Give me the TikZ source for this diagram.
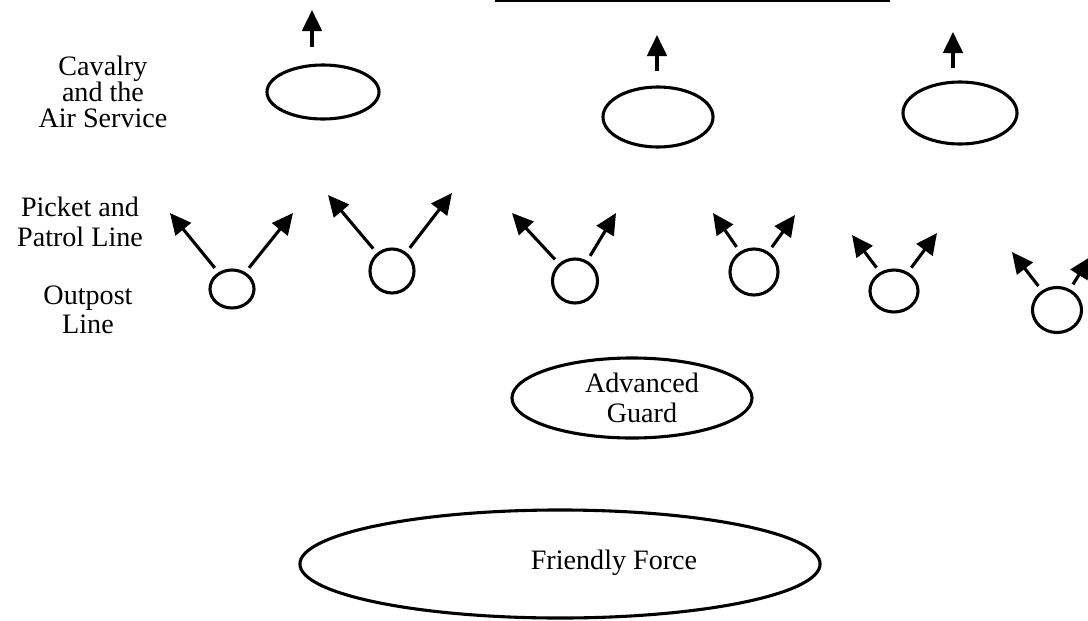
\documentclass[tikz,border=0pt]{standalone}
\usepackage{fontspec}
\setmainfont{Liberation Serif}
\usetikzlibrary{arrows.meta}
\usetikzlibrary{shapes.geometric}
\usetikzlibrary{positioning}

\begin{document}
\begin{tikzpicture}[x=0.025cm, y=-0.025cm,
		unit/.style={draw, ellipse, line width=2.2pt, inner sep=0pt},
		arr/.style={line width=2.2pt, -{Triangle[length=15pt, width=14pt]}},
		lbl/.style={align=center, font=\fontsize{20}{21}\selectfont}]
		\useasboundingbox (0,0) rectangle (1088,620);
		\draw[line width=1.6pt] (495,1) -- (890,1);

		\node[lbl, font=\fontsize{20}{18.5}\selectfont] (cavlbl) at (103,92) {Cavalry\\and the\\Air Service};
		\node[lbl] (picketlbl) at (80,222) {Picket and\\Patrol Line};
		\node[lbl] (outpostlbl) at (88,310) {Outpost\\Line};

		\node[unit, minimum width=2.8cm, minimum height=1.35cm] (cav1) at (323,92) {};
		\node[unit, minimum width=2.75cm, minimum height=1.5cm] (cav2) at (658,117) {};
		\node[unit, minimum width=2.85cm, minimum height=1.55cm] (cav3) at (960,113) {};
		\coordinate (cav1up) at (312,10);
		\coordinate (cav2up) at (657,35);
		\coordinate (cav3up) at (953,32);
		\draw[arr, shorten <=0.42cm] (cav1.north -| cav1up) -- (cav1up);
		\draw[arr, shorten <=0.35cm] (cav2.north -| cav2up) -- (cav2up);
		\draw[arr, shorten <=0.3cm] (cav3.north -| cav3up) -- (cav3up);

		\node[unit, minimum width=1.1cm, minimum height=0.95cm] (op1) at (232,289) {};
		\node[unit, minimum width=1.1cm, minimum height=1.1cm] (op2) at (392,271) {};
		\node[unit, minimum width=1.125cm, minimum height=1.1cm] (op3) at (575,281) {};
		\node[unit, minimum width=1.2cm, minimum height=1.15cm] (op4) at (754,272) {};
		\node[unit, minimum width=1.2cm, minimum height=1.05cm] (op5) at (894,291) {};
		\node[unit, minimum width=1.225cm, minimum height=1.125cm] (op6) at (1057,310) {};
		\coordinate (op1l) at (170,213);
		\coordinate (op1r) at (293,213);
		\coordinate (op2l) at (328,195);
		\coordinate (op2r) at (452,193);
		\coordinate (op3l) at (512,213);
		\coordinate (op3r) at (616,213);
		\coordinate (op4l) at (713,213);
		\coordinate (op4r) at (795,215);
		\coordinate (op5l) at (852,235);
		\coordinate (op5r) at (937,233);
		\coordinate (op6l) at (1012,252);
		\coordinate (op6r) at (1090,257);
		\draw[arr, shorten <=4pt] (op1) -- (op1l);
		\draw[arr, shorten <=4pt] (op1) -- (op1r);
		\draw[arr, shorten <=4pt] (op2) -- (op2l);
		\draw[arr, shorten <=4pt] (op2) -- (op2r);
		\draw[arr, shorten <=4pt] (op3) -- (op3l);
		\draw[arr, shorten <=4pt] (op3) -- (op3r);
		\draw[arr, shorten <=4pt] (op4) -- (op4l);
		\draw[arr, shorten <=4pt] (op4) -- (op4r);
		\draw[arr, shorten <=4pt] (op5) -- (op5l);
		\draw[arr, shorten <=4pt] (op5) -- (op5r);
		\draw[arr, shorten <=4pt] (op6) -- (op6l);
		\draw[arr, shorten <=4pt] (op6) -- (op6r);

		\node[unit, minimum width=6cm, minimum height=2cm] (guard) at (632,398) {};
		\node[lbl] (guardlbl) at (642,398) {Advanced\\Guard};
		\node[unit, minimum width=13cm, minimum height=2.7cm] (force) at (560,564) {};
		\node[lbl] (forcelbl) at (614,563) {Friendly Force};
	\end{tikzpicture}
\end{document}
